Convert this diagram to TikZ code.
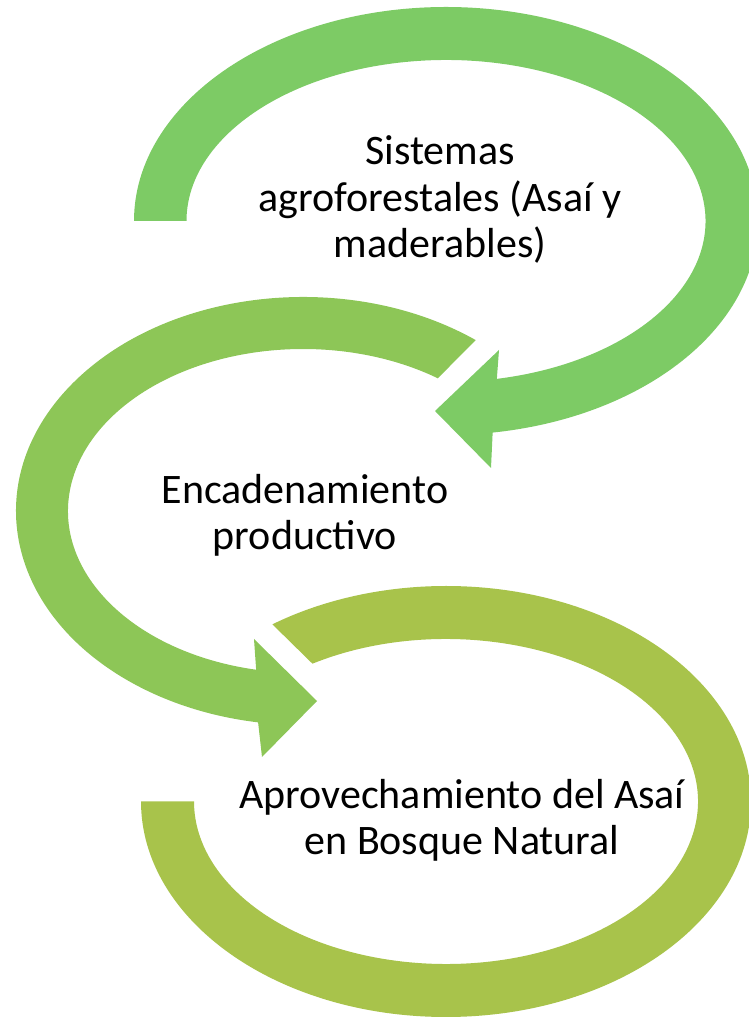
\documentclass[tikz,border=0pt]{standalone}
\usepackage{fontspec}
\setmainfont{Carlito}
\definecolor{aGreen}{HTML}{7DCB65}
\definecolor{bGreen}{HTML}{8DC657}
\definecolor{cGreen}{HTML}{A8C34B}

\begin{document}
\begin{tikzpicture}[x=1pt, y=1pt,
    steptext/.style={font=\fontsize{42}{46.5}\selectfont, align=center, anchor=base, inner sep=0pt}]
  \useasboundingbox (0,0) rectangle (748,1018);
  \coordinate (c1) at (446,797);
  \coordinate (c2) at (303,507);
  \coordinate (c3) at (446,216.5);

  % first arrow, over the top and back to the left
  \fill[aGreen] ([shift={(180:312pt and 214pt)}]c1)
    arc[start angle=180, end angle=-81.4, x radius=312pt, y radius=214pt]
    -- (491,550) -- (435,607) -- (499,668)
    -- ([shift={(-78.7:259.5pt and 161pt)}]c1)
    arc[start angle=-78.7, end angle=180, x radius=259.5pt, y radius=161pt] -- cycle;

  % second arrow, round the left side
  \fill[bGreen] ([shift={(53:287pt and 214pt)}]c2)
    arc[start angle=53, end angle=261, x radius=287pt, y radius=214pt]
    -- (262,261) -- (317,317) -- (254,379)
    -- ([shift={(258.5:235pt and 162pt)}]c2)
    arc[start angle=258.5, end angle=55, x radius=235pt, y radius=162pt] -- cycle;

  % last ring, no head
  \fill[cGreen] ([shift={(180:305pt and 215.5pt)}]c3)
    arc[start angle=180, end angle=484.7, x radius=305pt, y radius=215.5pt]
    -- ([shift={(482:252pt and 162.5pt)}]c3)
    arc[start angle=482, end angle=180, x radius=252pt, y radius=162.5pt] -- cycle;

  % base anchor sits on the last line
  \node[steptext] (sistemas) at (440,760) {Sistemas\\agroforestales (Asaí y\\maderables)};
  \node[steptext] (encadena) at (305,468) {Encadenamiento\\productivo};
  \node[steptext] (aprovecha) at (462,163) {Aprovechamiento del Asaí\\en Bosque Natural};
\end{tikzpicture}
\end{document}
